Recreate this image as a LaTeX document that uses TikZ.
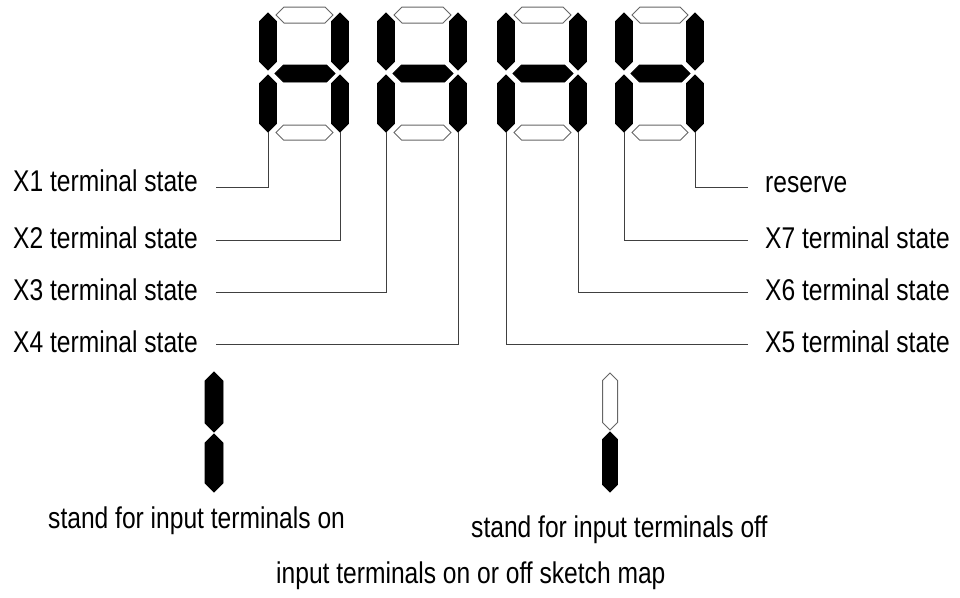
\documentclass[tikz,border=0pt]{standalone}
\usepackage{fontspec}
\setmainfont{Liberation Sans}[FakeStretch=0.82]
\begin{document}
\begin{tikzpicture}[x=1pt,y=-1pt,
  segon/.style={fill=black,draw=black,line width=0.8pt},
  segoff/.style={fill=white,draw=black!60,line width=1pt},
  conn/.style={draw=black!75,line width=1pt},
  lab/.style={inner sep=0pt,anchor=base west,font=\fontsize{30}{36}\selectfont}]
\useasboundingbox (0,0) rectangle (960,597);
% vertical hexagon: #1 style, #2 centre x, #3 top, #4 bottom, #5 half width
\newcommand{\vseg}[5]{\path[#1] (#2,#3) -- (#2+#5,#3+#5) -- (#2+#5,#4-#5) -- (#2,#4) -- (#2-#5,#4-#5) -- (#2-#5,#3+#5) -- cycle;}
% horizontal hexagon: #1 style, #2 left, #3 right, #4 centre y, #5 half height
\newcommand{\hseg}[5]{\path[#1] (#2,#4) -- (#2+#5,#4-#5) -- (#3-#5,#4-#5) -- (#3,#4) -- (#3-#5,#4+#5) -- (#2+#5,#4+#5) -- cycle;}
% digit: #1 left centre x, #2 right centre x
\newcommand{\digitAH}[2]{%
  \hseg{segoff}{#1+8}{#2-7}{15}{8}
  \hseg{segon}{#1+7}{#2-5}{73.5}{8.5}
  \hseg{segoff}{#1+8}{#2-7}{132.5}{7.5}
  \vseg{segon}{#1}{13}{70}{8.5}
  \vseg{segon}{#1}{75}{132}{8.5}
  \vseg{segon}{#2}{13}{70}{8.5}
  \vseg{segon}{#2}{75}{132}{8.5}}
\digitAH{268}{340}
\digitAH{386}{458}
\digitAH{506}{578}
\digitAH{624}{695}
% segment bottom tips
\coordinate (s1) at (268,132);
\coordinate (s2) at (340,132);
\coordinate (s3) at (386,132);
\coordinate (s4) at (458,132);
\coordinate (s5) at (506,132);
\coordinate (s6) at (578,132);
\coordinate (s7) at (624,132);
\coordinate (s8) at (695,132);
% line ends
\coordinate (e1) at (216,187);
\coordinate (e2) at (216,240);
\coordinate (e3) at (216,292);
\coordinate (e4) at (216,344);
\coordinate (e5) at (748,344);
\coordinate (e6) at (748,292);
\coordinate (e7) at (748,240);
\coordinate (e8) at (748,187);
% labels
\node[lab] (l1) at (13,191) {X1 terminal state};
\node[lab] (l2) at (13,248) {X2 terminal state};
\node[lab] (l3) at (13,300) {X3 terminal state};
\node[lab] (l4) at (13,352) {X4 terminal state};
\node[lab] (l5) at (765,352) {X5 terminal state};
\node[lab] (l6) at (765,300) {X6 terminal state};
\node[lab] (l7) at (765,248) {X7 terminal state};
\node[lab] (l8) at (765,192) {reserve};
% connectors
\draw[conn] (s1) |- (e1);
\draw[conn] (s2) |- (e2);
\draw[conn] (s3) |- (e3);
\draw[conn] (s4) |- (e4);
\draw[conn] (s5) |- (e5);
\draw[conn] (s6) |- (e6);
\draw[conn] (s7) |- (e7);
\draw[conn] (s8) |- (e8);
% legend
\vseg{segon}{214}{372}{432}{9}
\vseg{segon}{214}{434}{492}{9}
\vseg{segoff}{610}{373}{430}{7.5}
\vseg{segon}{610}{432}{492}{7.5}
\node[lab] (ton) at (48,528) {stand for input terminals on};
\node[lab] (toff) at (471,537) {stand for input terminals off};
\node[lab] (title) at (276,583) {input terminals on or off sketch map};
\end{tikzpicture}
\end{document}
